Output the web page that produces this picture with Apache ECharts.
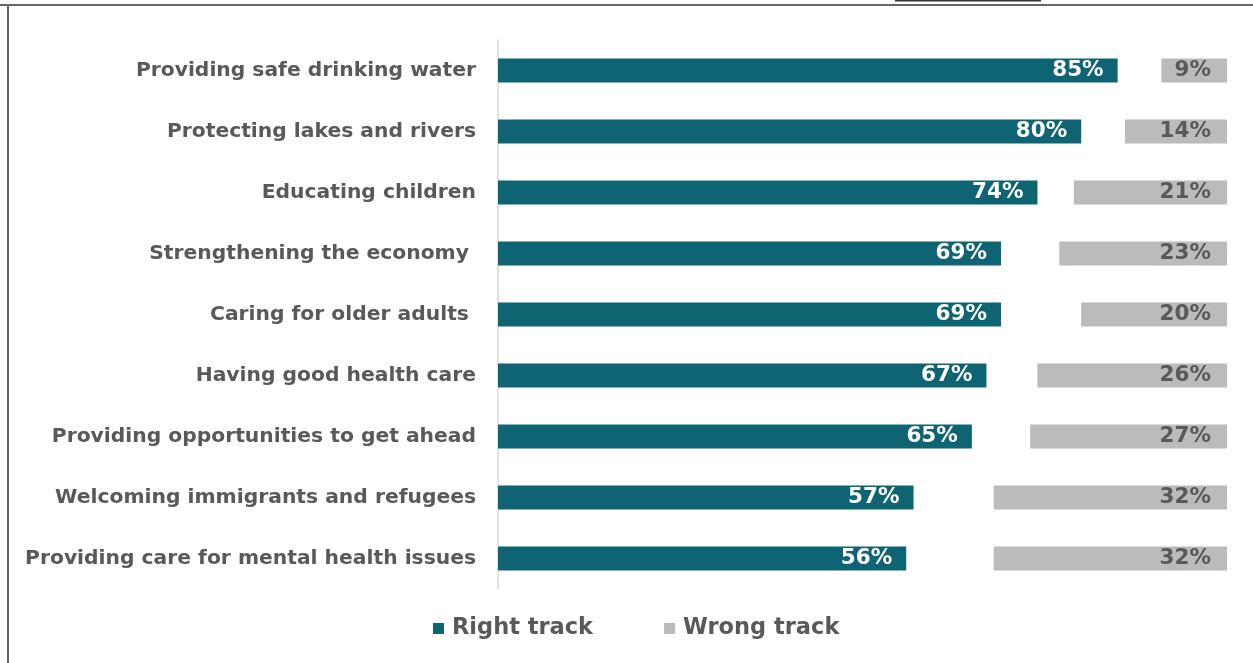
<!DOCTYPE html>
<html>
<head>
<meta charset="utf-8">
<script src="https://cdn.jsdelivr.net/npm/echarts@6/dist/echarts.min.js"></script>
<style>
html,body{margin:0;padding:0;background:#fff;}
#c{width:1253px;height:663px;}
</style>
</head>
<body>
<div id="c"></div>
<script>
const categories = [
  "Providing safe drinking water",
  "Protecting lakes and rivers",
  "Educating children",
  "Strengthening the economy ",
  "Caring for older adults ",
  "Having good health care",
  "Providing opportunities to get ahead",
  "Welcoming immigrants and refugees",
  "Providing care for mental health issues"
];
const rightTrack = [85, 80, 74, 69, 69, 67, 65, 57, 56];
const wrongTrack = [9, 14, 21, 23, 20, 26, 27, 32, 32];
const spacer = rightTrack.map((r, i) => 100 - r - wrongTrack[i]);

const chart = echarts.init(document.getElementById('c'));
const labelFont = 'DejaVu Sans';
chart.setOption({
  animation: false,
  backgroundColor: '#ffffff',
  grid: { left: 498, right: 26, top: 40, height: 549, containLabel: false },
  xAxis: { type: 'value', min: 0, max: 100, show: false },
  yAxis: {
    type: 'category', data: categories, inverse: true,
    axisLine: { show: true, lineStyle: { color: '#d9d9d9', width: 1.5 } },
    axisTick: { show: false },
    axisLabel: { margin: 22, color: '#595959', fontFamily: labelFont, fontWeight: 'bold', fontSize: 20.3 }
  },
  legend: {
    data: ['Right track', 'Wrong track'],
    bottom: 18, left: 428,
    icon: 'rect', itemWidth: 11, itemHeight: 11, itemGap: 71,
    textStyle: { color: '#595959', fontFamily: labelFont, fontWeight: 'bold', fontSize: 22.5, padding: [0, 0, 0, 3] }
  },
  series: [
    {
      name: 'Right track', type: 'bar', stack: 't', data: rightTrack, barWidth: 24,
      itemStyle: { color: '#0f6474' },
      label: { show: true, position: 'insideRight', distance: 14, formatter: '{c}%', color: '#ffffff',
        fontFamily: labelFont, fontWeight: 'bold', fontSize: 21.5 }
    },
    {
      name: 'gap', type: 'bar', stack: 't', data: spacer, barWidth: 24,
      itemStyle: { color: 'rgba(0,0,0,0)' }, silent: true, label: { show: false }
    },
    {
      name: 'Wrong track', type: 'bar', stack: 't', data: wrongTrack, barWidth: 24,
      itemStyle: { color: '#bcbabb' },
      label: { show: true, position: 'insideRight', distance: 16, formatter: '{c}%', color: '#595959',
        fontFamily: labelFont, fontWeight: 'bold', fontSize: 21.5 }
    }
  ],
  graphic: [
    { type: 'rect', shape: { x: 0, y: 4, width: 1253, height: 2 }, style: { fill: '#666666' } },
    { type: 'rect', shape: { x: 7, y: 4, width: 2, height: 659 }, style: { fill: '#666666' } },
    { type: 'rect', shape: { x: 895, y: 0, width: 146, height: 1.5 }, style: { fill: '#333333' } }
  ]
});
</script>
</body>
</html>
